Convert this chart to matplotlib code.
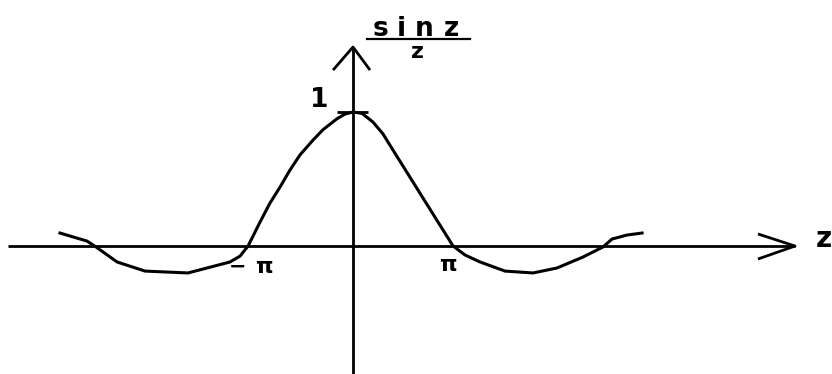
import matplotlib
matplotlib.use("Agg")
import matplotlib.pyplot as plt

# sin(z)/z sketch; z in units of pi
z_vals = [-2.859, -2.595, -2.507, -2.302, -2.029, -1.610, -1.200, -1.102,
          -1.024, -0.907, -0.810, -0.712, -0.615, -0.517, -0.390, -0.293,
          -0.156, -0.078, 0.0, 0.088, 0.195, 0.293, 0.390, 0.976,
          1.093, 1.239, 1.483, 1.756, 1.990, 2.244, 2.439,
          2.527, 2.673, 2.820]
sinc_vals = [0.097, 0.037, -0.007, -0.119, -0.187, -0.201, -0.119, -0.075,
             0.0, 0.179, 0.321, 0.440, 0.567, 0.680, 0.791, 0.868,
             0.950, 0.985, 1.0, 0.990, 0.925, 0.836, 0.716, 0.0,
             -0.067, -0.119, -0.187, -0.201, -0.164, -0.082, -0.007,
             0.052, 0.082, 0.097]

fig = plt.figure(figsize=(8.32, 3.74), dpi=100)
ax = fig.add_axes([0, 0, 1, 1])
ax.set_xlim(-3.444, 4.673)
ax.set_ylim(-0.955, 1.836)
ax.axis("off")

lw = 2.0
k = dict(color="black", lw=lw, solid_capstyle="butt")

# z axis with open arrow head
ax.plot([-3.366, 4.312], [0, 0], **k)
ax.plot([3.951, 4.312, 3.951], [0.090, 0.0, -0.097], **k)
# vertical axis with open arrow head
ax.plot([0, 0], [-0.955, 1.485], **k)
ax.plot([-0.195, 0.0, 0.166], [1.313, 1.485, 1.313], **k)
# tick at 1
ax.plot([-0.156, 0.146], [1.0, 1.0], **k)

# curve
ax.plot(z_vals, sinc_vals, color="black", lw=2.2, solid_joinstyle="round")

fw = "heavy"
fam = "DejaVu Sans"
ax.text(-0.327, 1.090, "1", fontsize=19, fontweight=fw, family=fam,
        ha="center", va="center")

# fraction label sin z / z
for ch, xc in zip("sinz", [0.273, 0.468, 0.693, 0.956]):
    ax.text(xc, 1.567, ch, fontsize=19, fontweight=fw, family=fam,
            ha="center", va="baseline")
ax.plot([0.137, 1.141], [1.545, 1.545], color="black", lw=1.6)
ax.text(0.629, 1.403, "z", fontsize=16, fontweight=fw, family=fam,
        ha="center", va="baseline")

# pi marks
ax.text(-1.127, -0.201, "\u2212", fontsize=15, fontweight=fw, family=fam,
        ha="center", va="baseline")
ax.text(-0.873, -0.201, "\u03c0", fontsize=16, fontweight=fw, family=fam,
        ha="center", va="baseline")
ax.text(0.922, -0.187, "\u03c0", fontsize=16, fontweight=fw, family=fam,
        ha="center", va="baseline")

ax.text(4.595, -0.007, "z", fontsize=20, fontweight=fw, family=fam,
        ha="center", va="baseline")

fig.savefig("out.png", dpi=100, facecolor="white")
